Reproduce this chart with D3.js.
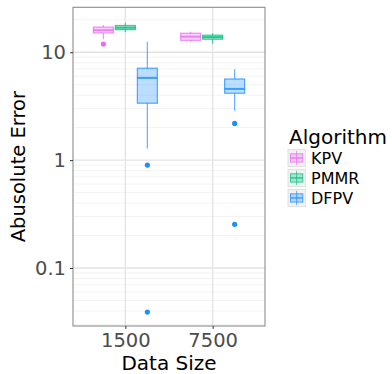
<!DOCTYPE html>
<html>
<head>
<meta charset="utf-8">
<script src="https://cdn.jsdelivr.net/npm/d3@7"></script>
<style>
  body { margin: 0; background: #fff; }
  text { font-family: "DejaVu Sans", sans-serif; }
</style>
</head>
<body>
<div id="chart"></div>
<script>
// categories and series
var sizes = ["1500", "7500"];
var algorithms = ["KPV", "PMMR", "DFPV"];
var colours = ["#E76BF3", "#00BF7D", "#1E8FFF"];

// box stats per algorithm, one value per data size
var whiskerLow = { KPV: [13.2, 12.5], PMMR: [15.4, 12.0], DFPV: [1.28, 2.87] };
var q1         = { KPV: [15.1, 12.9], PMMR: [16.2, 13.2], DFPV: [3.37, 4.17] };
var medians    = { KPV: [16.0, 13.95], PMMR: [16.9, 13.8], DFPV: [5.78, 4.57] };
var q3         = { KPV: [17.1, 15.0], PMMR: [17.7, 14.4], DFPV: [7.11, 5.65] };
var whiskerHigh = { KPV: [17.9, 15.5], PMMR: [18.8, 15.0], DFPV: [12.5, 6.95] };
var outliers   = { KPV: [[11.9], []], PMMR: [[], []], DFPV: [[0.90, 0.039], [2.19, 0.254]] };

var yTicks = [0.1, 1, 10];

var W = 392, H = 374;
var panel = { left: 73, right: 265, top: 7.3, bottom: 326 };

var svg = d3.select("#chart").append("svg")
  .attr("width", W).attr("height", H);

var y = d3.scaleLog().domain([0.029, 26.1]).range([panel.bottom, panel.top]);
// discrete axis with ggplot style expansion of 0.6 per side
var x = d3.scalePoint().domain(sizes).range([panel.left, panel.right]).padding(0.6);
var dodge = d3.scaleBand().domain(algorithms).range([-33, 33]);

// grid
var minor = [];
[0.01, 0.1, 1, 10].forEach(function(d) {
  for (var k = 2; k <= 9; k++) minor.push(d * k);
});
minor = minor.filter(function(v) { return v > 0.029 && v < 26.1; });

var grid = svg.append("g");
grid.selectAll(".minor").data(minor).enter().append("line")
  .attr("x1", panel.left).attr("x2", panel.right)
  .attr("y1", function(d) { return y(d); }).attr("y2", function(d) { return y(d); })
  .attr("stroke", "#F3F3F3").attr("stroke-width", 1);
grid.selectAll(".major").data(yTicks).enter().append("line")
  .attr("x1", panel.left).attr("x2", panel.right)
  .attr("y1", function(d) { return y(d); }).attr("y2", function(d) { return y(d); })
  .attr("stroke", "#E3E3E3").attr("stroke-width", 1.3);
grid.selectAll(".vmajor").data(sizes).enter().append("line")
  .attr("y1", panel.top).attr("y2", panel.bottom)
  .attr("x1", function(d) { return x(d); }).attr("x2", function(d) { return x(d); })
  .attr("stroke", "#E3E3E3").attr("stroke-width", 1.3);

// boxes
var boxW = 20;
algorithms.forEach(function(alg, ai) {
  var col = colours[ai];
  var g = svg.append("g");
  sizes.forEach(function(s, si) {
    var cx = x(s) + dodge(alg) + dodge.bandwidth() / 2;
    g.append("line")
      .attr("x1", cx).attr("x2", cx)
      .attr("y1", y(whiskerHigh[alg][si])).attr("y2", y(q3[alg][si]))
      .attr("stroke", col).attr("stroke-opacity", 0.7).attr("stroke-width", 1.2);
    g.append("line")
      .attr("x1", cx).attr("x2", cx)
      .attr("y1", y(q1[alg][si])).attr("y2", y(whiskerLow[alg][si]))
      .attr("stroke", col).attr("stroke-opacity", 0.7).attr("stroke-width", 1.2);
    g.append("rect")
      .attr("x", cx - boxW / 2).attr("width", boxW)
      .attr("y", y(q3[alg][si]))
      .attr("height", y(q1[alg][si]) - y(q3[alg][si]))
      .attr("fill", col).attr("fill-opacity", 0.3)
      .attr("stroke", col).attr("stroke-opacity", 0.75).attr("stroke-width", 1.2);
    g.append("line")
      .attr("x1", cx - boxW / 2).attr("x2", cx + boxW / 2)
      .attr("y1", y(medians[alg][si])).attr("y2", y(medians[alg][si]))
      .attr("stroke", col).attr("stroke-opacity", 0.8).attr("stroke-width", 2);
    g.selectAll(".out" + si).data(outliers[alg][si]).enter().append("circle")
      .attr("cx", cx).attr("cy", function(d) { return y(d); })
      .attr("r", 2.6).attr("fill", col);
  });
});

// panel border
svg.append("rect")
  .attr("x", panel.left).attr("y", panel.top)
  .attr("width", panel.right - panel.left).attr("height", panel.bottom - panel.top)
  .attr("fill", "none").attr("stroke", "#8C8C8C").attr("stroke-width", 1.1);

// axes
var yAxis = d3.axisLeft(y).tickValues(yTicks).tickFormat(d3.format("~g")).tickSize(3).tickPadding(4);
var yg = svg.append("g").attr("transform", "translate(" + panel.left + ",0)").call(yAxis);
yg.select(".domain").remove();
yg.selectAll(".tick line").attr("stroke", "#333");
yg.selectAll("text").attr("fill", "#4D4D4D").style("font-size", "19.5px");

var xAxis = d3.axisBottom(x).tickSize(3).tickPadding(4);
var xg = svg.append("g").attr("transform", "translate(0," + panel.bottom + ")").call(xAxis);
xg.select(".domain").remove();
xg.selectAll(".tick line").attr("stroke", "#333");
xg.selectAll("text").attr("fill", "#4D4D4D").style("font-size", "19.5px");

// axis titles
svg.append("text")
  .attr("x", (panel.left + panel.right) / 2).attr("y", 370)
  .attr("text-anchor", "middle").style("font-size", "20px").attr("fill", "#000")
  .text("Data Size");
svg.append("text")
  .attr("transform", "translate(25," + ((panel.top + panel.bottom) / 2) + ") rotate(-90)")
  .attr("text-anchor", "middle").style("font-size", "19.5px").attr("fill", "#000")
  .text("Abusolute Error");

// legend
var legend = svg.append("g").attr("transform", "translate(288,0)");
legend.append("text")
  .attr("x", 1).attr("y", 144).style("font-size", "20px").attr("fill", "#000")
  .text("Algorithm");
var key = legend.selectAll(".key").data(algorithms).enter().append("g")
  .attr("transform", function(d, i) { return "translate(0," + (149.3 + i * 20) + ")"; });
key.append("rect").attr("width", 17.3).attr("height", 17.3)
  .attr("fill", "#F2F2F2").attr("stroke", "#DADADA").attr("stroke-width", 0.8);
key.append("line")
  .attr("x1", 8.65).attr("x2", 8.65).attr("y1", 1.5).attr("y2", 15.8)
  .attr("stroke", function(d, i) { return colours[i]; }).attr("stroke-opacity", 0.7);
key.append("rect").attr("x", 2.5).attr("y", 4.5).attr("width", 12.3).attr("height", 8.3)
  .attr("fill", function(d, i) { return colours[i]; }).attr("fill-opacity", 0.3)
  .attr("stroke", function(d, i) { return colours[i]; }).attr("stroke-opacity", 0.75);
key.append("line")
  .attr("x1", 2.5).attr("x2", 14.8).attr("y1", 8.65).attr("y2", 8.65)
  .attr("stroke", function(d, i) { return colours[i]; }).attr("stroke-opacity", 0.8).attr("stroke-width", 1.4);
key.append("text")
  .attr("x", 23).attr("y", 14.5).style("font-size", "16px").attr("fill", "#000")
  .text(function(d) { return d; });
</script>
</body>
</html>
